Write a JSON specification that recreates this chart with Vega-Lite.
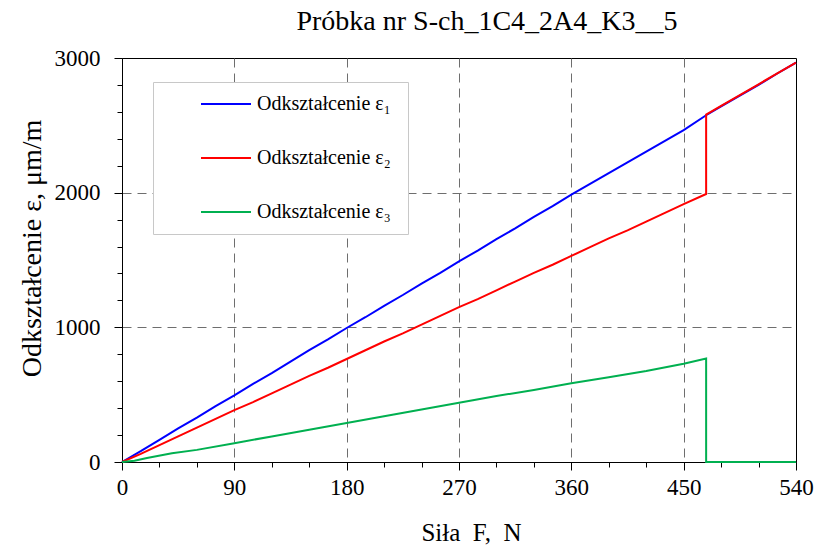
{
  "$schema": "https://vega.github.io/schema/vega-lite/v6.json",
  "width": 674,
  "height": 404,
  "autosize": {"type": "none"},
  "padding": {"left": 122, "top": 58, "right": 25, "bottom": 88},
  "background": "white",
  "config": {
    "view": {"stroke": "black", "strokeWidth": 1},
    "font": "Liberation Serif"
  },
  "title": {
    "text": "Próbka nr S-ch_1C4_2A4_K3__5",
    "font": "Liberation Serif",
    "fontSize": 28,
    "fontWeight": "normal",
    "color": "black",
    "anchor": "middle",
    "dx": 28,
    "offset": 11
  },
  "data": {
    "values": [
      {"i": 1, "s": "Odkształcenie  ε₁", "F": 0, "e": 0},
      {"i": 2, "s": "Odkształcenie  ε₁", "F": 15, "e": 80},
      {"i": 3, "s": "Odkształcenie  ε₁", "F": 30, "e": 165},
      {"i": 4, "s": "Odkształcenie  ε₁", "F": 45, "e": 250},
      {"i": 5, "s": "Odkształcenie  ε₁", "F": 60, "e": 330},
      {"i": 6, "s": "Odkształcenie  ε₁", "F": 75, "e": 415},
      {"i": 7, "s": "Odkształcenie  ε₁", "F": 90, "e": 495},
      {"i": 8, "s": "Odkształcenie  ε₁", "F": 105, "e": 580},
      {"i": 9, "s": "Odkształcenie  ε₁", "F": 120, "e": 660},
      {"i": 10, "s": "Odkształcenie  ε₁", "F": 135, "e": 745},
      {"i": 11, "s": "Odkształcenie  ε₁", "F": 150, "e": 830},
      {"i": 12, "s": "Odkształcenie  ε₁", "F": 165, "e": 910},
      {"i": 13, "s": "Odkształcenie  ε₁", "F": 180, "e": 995},
      {"i": 14, "s": "Odkształcenie  ε₁", "F": 195, "e": 1075},
      {"i": 15, "s": "Odkształcenie  ε₁", "F": 210, "e": 1160},
      {"i": 16, "s": "Odkształcenie  ε₁", "F": 225, "e": 1240},
      {"i": 17, "s": "Odkształcenie  ε₁", "F": 240, "e": 1325},
      {"i": 18, "s": "Odkształcenie  ε₁", "F": 255, "e": 1405},
      {"i": 19, "s": "Odkształcenie  ε₁", "F": 270, "e": 1490},
      {"i": 20, "s": "Odkształcenie  ε₁", "F": 285, "e": 1570},
      {"i": 21, "s": "Odkształcenie  ε₁", "F": 300, "e": 1655},
      {"i": 22, "s": "Odkształcenie  ε₁", "F": 315, "e": 1735},
      {"i": 23, "s": "Odkształcenie  ε₁", "F": 330, "e": 1820},
      {"i": 24, "s": "Odkształcenie  ε₁", "F": 345, "e": 1900},
      {"i": 25, "s": "Odkształcenie  ε₁", "F": 360, "e": 1985},
      {"i": 26, "s": "Odkształcenie  ε₁", "F": 375, "e": 2065},
      {"i": 27, "s": "Odkształcenie  ε₁", "F": 390, "e": 2145},
      {"i": 28, "s": "Odkształcenie  ε₁", "F": 405, "e": 2225},
      {"i": 29, "s": "Odkształcenie  ε₁", "F": 420, "e": 2305},
      {"i": 30, "s": "Odkształcenie  ε₁", "F": 435, "e": 2385},
      {"i": 31, "s": "Odkształcenie  ε₁", "F": 450, "e": 2465},
      {"i": 32, "s": "Odkształcenie  ε₁", "F": 468, "e": 2575},
      {"i": 33, "s": "Odkształcenie  ε₁", "F": 480, "e": 2640},
      {"i": 34, "s": "Odkształcenie  ε₁", "F": 495, "e": 2720},
      {"i": 35, "s": "Odkształcenie  ε₁", "F": 510, "e": 2800},
      {"i": 36, "s": "Odkształcenie  ε₁", "F": 525, "e": 2885},
      {"i": 37, "s": "Odkształcenie  ε₁", "F": 540, "e": 2965},

      {"i": 101, "s": "Odkształcenie  ε₂", "F": 0, "e": 0},
      {"i": 102, "s": "Odkształcenie  ε₂", "F": 15, "e": 60},
      {"i": 103, "s": "Odkształcenie  ε₂", "F": 30, "e": 125},
      {"i": 104, "s": "Odkształcenie  ε₂", "F": 45, "e": 190},
      {"i": 105, "s": "Odkształcenie  ε₂", "F": 60, "e": 255},
      {"i": 106, "s": "Odkształcenie  ε₂", "F": 75, "e": 320},
      {"i": 107, "s": "Odkształcenie  ε₂", "F": 90, "e": 385},
      {"i": 108, "s": "Odkształcenie  ε₂", "F": 105, "e": 445},
      {"i": 109, "s": "Odkształcenie  ε₂", "F": 120, "e": 510},
      {"i": 110, "s": "Odkształcenie  ε₂", "F": 135, "e": 575},
      {"i": 111, "s": "Odkształcenie  ε₂", "F": 150, "e": 640},
      {"i": 112, "s": "Odkształcenie  ε₂", "F": 165, "e": 700},
      {"i": 113, "s": "Odkształcenie  ε₂", "F": 180, "e": 765},
      {"i": 114, "s": "Odkształcenie  ε₂", "F": 195, "e": 830},
      {"i": 115, "s": "Odkształcenie  ε₂", "F": 210, "e": 895},
      {"i": 116, "s": "Odkształcenie  ε₂", "F": 225, "e": 955},
      {"i": 117, "s": "Odkształcenie  ε₂", "F": 240, "e": 1020},
      {"i": 118, "s": "Odkształcenie  ε₂", "F": 255, "e": 1085},
      {"i": 119, "s": "Odkształcenie  ε₂", "F": 270, "e": 1150},
      {"i": 120, "s": "Odkształcenie  ε₂", "F": 285, "e": 1210},
      {"i": 121, "s": "Odkształcenie  ε₂", "F": 300, "e": 1275},
      {"i": 122, "s": "Odkształcenie  ε₂", "F": 315, "e": 1340},
      {"i": 123, "s": "Odkształcenie  ε₂", "F": 330, "e": 1405},
      {"i": 124, "s": "Odkształcenie  ε₂", "F": 345, "e": 1465},
      {"i": 125, "s": "Odkształcenie  ε₂", "F": 360, "e": 1530},
      {"i": 126, "s": "Odkształcenie  ε₂", "F": 375, "e": 1595},
      {"i": 127, "s": "Odkształcenie  ε₂", "F": 390, "e": 1660},
      {"i": 128, "s": "Odkształcenie  ε₂", "F": 405, "e": 1720},
      {"i": 129, "s": "Odkształcenie  ε₂", "F": 420, "e": 1785},
      {"i": 130, "s": "Odkształcenie  ε₂", "F": 435, "e": 1850},
      {"i": 131, "s": "Odkształcenie  ε₂", "F": 450, "e": 1915},
      {"i": 132, "s": "Odkształcenie  ε₂", "F": 468, "e": 1990},
      {"i": 133, "s": "Odkształcenie  ε₂", "F": 468, "e": 2580},
      {"i": 134, "s": "Odkształcenie  ε₂", "F": 480, "e": 2645},
      {"i": 135, "s": "Odkształcenie  ε₂", "F": 495, "e": 2725},
      {"i": 136, "s": "Odkształcenie  ε₂", "F": 510, "e": 2805},
      {"i": 137, "s": "Odkształcenie  ε₂", "F": 525, "e": 2885},
      {"i": 138, "s": "Odkształcenie  ε₂", "F": 540, "e": 2965},

      {"i": 201, "s": "Odkształcenie  ε₃", "F": 0, "e": 0},
      {"i": 202, "s": "Odkształcenie  ε₃", "F": 10, "e": 10},
      {"i": 203, "s": "Odkształcenie  ε₃", "F": 20, "e": 30},
      {"i": 204, "s": "Odkształcenie  ε₃", "F": 40, "e": 65},
      {"i": 205, "s": "Odkształcenie  ε₃", "F": 60, "e": 90},
      {"i": 206, "s": "Odkształcenie  ε₃", "F": 90, "e": 140},
      {"i": 207, "s": "Odkształcenie  ε₃", "F": 120, "e": 190},
      {"i": 208, "s": "Odkształcenie  ε₃", "F": 150, "e": 240},
      {"i": 209, "s": "Odkształcenie  ε₃", "F": 180, "e": 290},
      {"i": 210, "s": "Odkształcenie  ε₃", "F": 210, "e": 340},
      {"i": 211, "s": "Odkształcenie  ε₃", "F": 240, "e": 390},
      {"i": 212, "s": "Odkształcenie  ε₃", "F": 270, "e": 440},
      {"i": 213, "s": "Odkształcenie  ε₃", "F": 300, "e": 490},
      {"i": 214, "s": "Odkształcenie  ε₃", "F": 330, "e": 535},
      {"i": 215, "s": "Odkształcenie  ε₃", "F": 360, "e": 585},
      {"i": 216, "s": "Odkształcenie  ε₃", "F": 390, "e": 630},
      {"i": 217, "s": "Odkształcenie  ε₃", "F": 420, "e": 675},
      {"i": 218, "s": "Odkształcenie  ε₃", "F": 450, "e": 730},
      {"i": 219, "s": "Odkształcenie  ε₃", "F": 468, "e": 768},
      {"i": 220, "s": "Odkształcenie  ε₃", "F": 468, "e": 0},
      {"i": 221, "s": "Odkształcenie  ε₃", "F": 540, "e": 0}
    ]
  },
  "mark": {"type": "line", "strokeWidth": 2, "clip": false},
  "encoding": {
    "x": {
      "field": "F",
      "type": "quantitative",
      "scale": {"domain": [0, 540], "nice": false, "zero": true},
      "axis": {
        "title": "Siła\u00a0 F,\u00a0 N",
        "titleFont": "Liberation Serif",
        "titleFontSize": 25,
        "titleFontWeight": "normal",
        "titleColor": "black",
        "titleX": 349,
        "titleY": 78,
        "titleBaseline": "alphabetic",
        "titleAlign": "center",
        "values": [0, 30, 60, 90, 120, 150, 180, 210, 240, 270, 300, 330, 360, 390, 420, 450, 480, 510, 540],
        "labelExpr": "datum.value % 90 == 0 ? datum.label : ''",
        "labelFont": "Liberation Serif",
        "labelFontSize": 23,
        "labelColor": "black",
        "labelPadding": 6,
        "labelOverlap": false,
        "labelFlush": false,
        "domainColor": "black",
        "tickColor": "black",
        "tickSize": {"condition": {"test": "datum.value % 90 == 0", "value": 8}, "value": 5},
        "grid": true,
        "gridColor": "#6e6e6e",
        "gridDash": [9, 6],
        "gridWidth": 1,
        "gridOpacity": {"condition": {"test": "datum.value % 90 == 0 && datum.value > 0 && datum.value < 540", "value": 1}, "value": 0}
      }
    },
    "y": {
      "field": "e",
      "type": "quantitative",
      "scale": {"domain": [0, 3000], "nice": false},
      "axis": {
        "title": "Odkształcenie ε, μm/m",
        "titleFont": "Liberation Serif",
        "titleFontSize": 28,
        "titleFontWeight": "normal",
        "titleColor": "black",
        "titleAngle": -90,
        "titleX": -82,
        "titleY": 190,
        "titleBaseline": "alphabetic",
        "titleAlign": "center",
        "values": [0, 200, 400, 600, 800, 1000, 1200, 1400, 1600, 1800, 2000, 2200, 2400, 2600, 2800, 3000],
        "labelExpr": "datum.value % 1000 == 0 ? datum.label : ''",
        "format": "d",
        "labelFont": "Liberation Serif",
        "labelFontSize": 23,
        "labelColor": "black",
        "labelPadding": 14,
        "labelOverlap": false,
        "labelFlush": false,
        "domainColor": "black",
        "tickColor": "black",
        "tickSize": {"condition": {"test": "datum.value % 1000 == 0", "value": 8}, "value": 5},
        "grid": true,
        "gridColor": "#6e6e6e",
        "gridDash": [9, 6],
        "gridWidth": 1,
        "gridOpacity": {"condition": {"test": "datum.value % 1000 == 0 && datum.value > 0 && datum.value < 3000", "value": 1}, "value": 0}
      }
    },
    "color": {
      "field": "s",
      "type": "nominal",
      "scale": {
        "domain": ["Odkształcenie  ε₁", "Odkształcenie  ε₂", "Odkształcenie  ε₃"],
        "range": ["#0000ff", "#ff0000", "#00b050"]
      },
      "legend": {
        "title": null,
        "orient": "none",
        "legendX": 31,
        "legendY": 24,
        "fillColor": "white",
        "strokeColor": "#c8c8c8",
        "padding": 12,
        "symbolType": "stroke",
        "symbolSize": 2500,
        "symbolStrokeWidth": 2,
        "symbolOffset": 35,
        "clipHeight": 20,
        "rowPadding": 34,
        "labelFont": "Liberation Serif",
        "labelFontSize": 20,
        "labelColor": "black",
        "labelOffset": 5,
        "labelLimit": 300
      }
    },
    "order": {"field": "i", "type": "quantitative"}
  }
}
